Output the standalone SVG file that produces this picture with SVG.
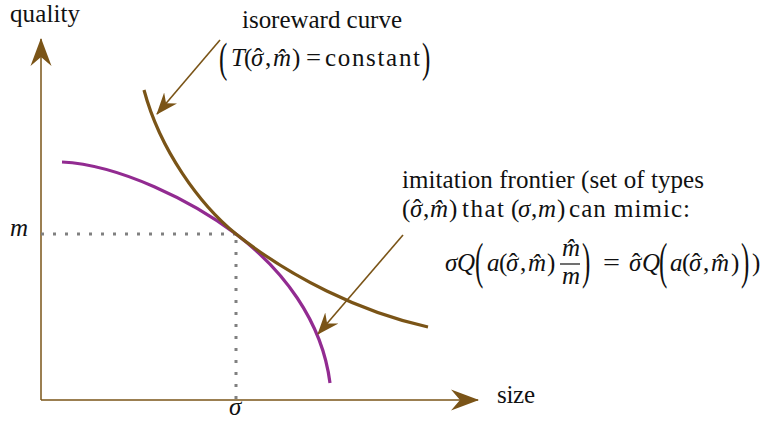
<svg xmlns="http://www.w3.org/2000/svg" width="764" height="421" viewBox="0 0 764 421">
<defs>
<style>
.t{font-family:"Liberation Serif","Times New Roman",serif;font-size:25px;fill:#111}
.i{font-style:italic}
.n{font-style:normal}
.axis{stroke:#7a5417;stroke-width:1.5;fill:none}
.curve{fill:none;stroke-width:3.2;stroke-linecap:butt}
.dot{stroke:#808080;stroke-width:3;stroke-dasharray:3 9;fill:none}
.call{stroke:#7a5417;stroke-width:1.6;fill:none}
</style>
<marker id="bigHead" viewBox="0 -11 28 22" markerWidth="28" markerHeight="22" refX="27" refY="0" orient="auto" markerUnits="userSpaceOnUse">
<path d="M28,0 L0,-10.5 L9,0 L0,10.5 Z" fill="#7a5417"/>
</marker>
<marker id="smallHead" viewBox="0 -9 22 18" markerWidth="22" markerHeight="18" refX="21" refY="0" orient="auto" markerUnits="userSpaceOnUse">
<path d="M22,0 L0,-8.5 L7,0 L0,8.5 Z" fill="#7a5417"/>
</marker>
</defs>
<rect width="764" height="421" fill="#fff"/>

<g id="axes">
<line class="axis" x1="41" y1="400" x2="41" y2="39" marker-end="url(#bigHead)"/>
<line class="axis" x1="41" y1="400" x2="478" y2="400" marker-end="url(#bigHead)"/>
<text class="t" x="10" y="22" textLength="70">quality</text>
<text class="t" x="497" y="403" textLength="38">size</text>
</g>

<g id="guides">
<path class="dot" d="M41,234 H236"/>
<path class="dot" d="M236,240 V400"/>
<text class="t i" x="10" y="236">m</text>
<text class="t i" x="229" y="415">σ</text>
</g>

<g id="frontier">
<path class="curve" stroke="#922b91" d="M62,162 C120,165 192,201 236,234 C282,269 322,320 330,383"/>
</g>

<g id="isoreward">
<path class="curve" stroke="#7a5417" d="M144,90 C160,150 200,205 236,234 C290,277 360,312 428,327"/>
</g>

<g id="connectors">
<line class="call" x1="220" y1="40" x2="157" y2="114" marker-end="url(#smallHead)"/>
<line class="call" x1="403" y1="235" x2="318" y2="334" marker-end="url(#smallHead)"/>
</g>

<g id="label-isoreward">
<text class="t" x="242" y="28" textLength="160">isoreward curve</text>
<text class="t" transform="translate(219,72.4) scale(1,1.7)">(</text>
<text class="t i" x="231" y="66">T</text>
<text class="t" x="244" y="66">(</text>
<text class="t i" x="251" y="66">σ<tspan class="n" x="254">ˆ</tspan></text>
<text class="t" x="265" y="66">,</text>
<text class="t i" x="273" y="66">m̂</text>
<text class="t" x="292" y="66">)</text>
<text class="t" x="306" y="66" textLength="15" lengthAdjust="spacingAndGlyphs">=</text>
<text class="t" x="325" y="66" textLength="95">constant</text>
<text class="t" transform="translate(422,72.4) scale(1,1.7)">)</text>
</g>

<g id="label-frontier">
<text class="t" x="402" y="188" textLength="302">imitation frontier (set of types</text>
<text class="t" x="402" y="217">(</text>
<text class="t i" x="410" y="217">σ<tspan class="n" x="413">ˆ</tspan></text>
<text class="t" x="423" y="217">,</text>
<text class="t i" x="430" y="217">m̂</text>
<text class="t" x="449" y="217">)</text>
<text class="t" x="462" y="217" textLength="42">that</text>
<text class="t" x="511" y="217">(</text>
<text class="t i" x="518" y="217">σ</text>
<text class="t" x="531" y="217">,</text>
<text class="t i" x="538" y="217">m</text>
<text class="t" x="557" y="217">)</text>
<text class="t" x="569" y="217" textLength="121">can mimic:</text>

<text class="t i" x="445" y="271">σ</text>
<text class="t i" x="457" y="271">Q</text>
<text class="t" transform="translate(475,278) scale(1,2.0)">(</text>
<text class="t i" x="487" y="271">a</text>
<text class="t" x="499" y="271">(</text>
<text class="t i" x="506" y="271">σ<tspan class="n" x="509">ˆ</tspan></text>
<text class="t" x="520" y="271">,</text>
<text class="t i" x="528" y="271">m̂</text>
<text class="t" x="547" y="271">)</text>
<text class="t i" x="562" y="256">m̂</text>
<line x1="560" y1="264" x2="580" y2="264" stroke="#111" stroke-width="1.2"/>
<text class="t i" x="562" y="284">m</text>
<text class="t" transform="translate(582,278) scale(1,2.0)">)</text>
<text class="t" x="603" y="271" textLength="17" lengthAdjust="spacingAndGlyphs">=</text>
<text class="t i" x="629" y="271">σ<tspan class="n" x="632">ˆ</tspan></text>
<text class="t i" x="642" y="271">Q</text>
<text class="t" transform="translate(659,278) scale(1,2.0)">(</text>
<text class="t i" x="670" y="271">a</text>
<text class="t" x="682" y="271">(</text>
<text class="t i" x="689" y="271">σ<tspan class="n" x="692">ˆ</tspan></text>
<text class="t" x="703" y="271">,</text>
<text class="t i" x="711" y="271">m̂</text>
<text class="t" x="731" y="271">)</text>
<text class="t" transform="translate(741,278) scale(1,2.0)">)</text>
<text class="t" x="752" y="271">)</text>
</g>
</svg>
